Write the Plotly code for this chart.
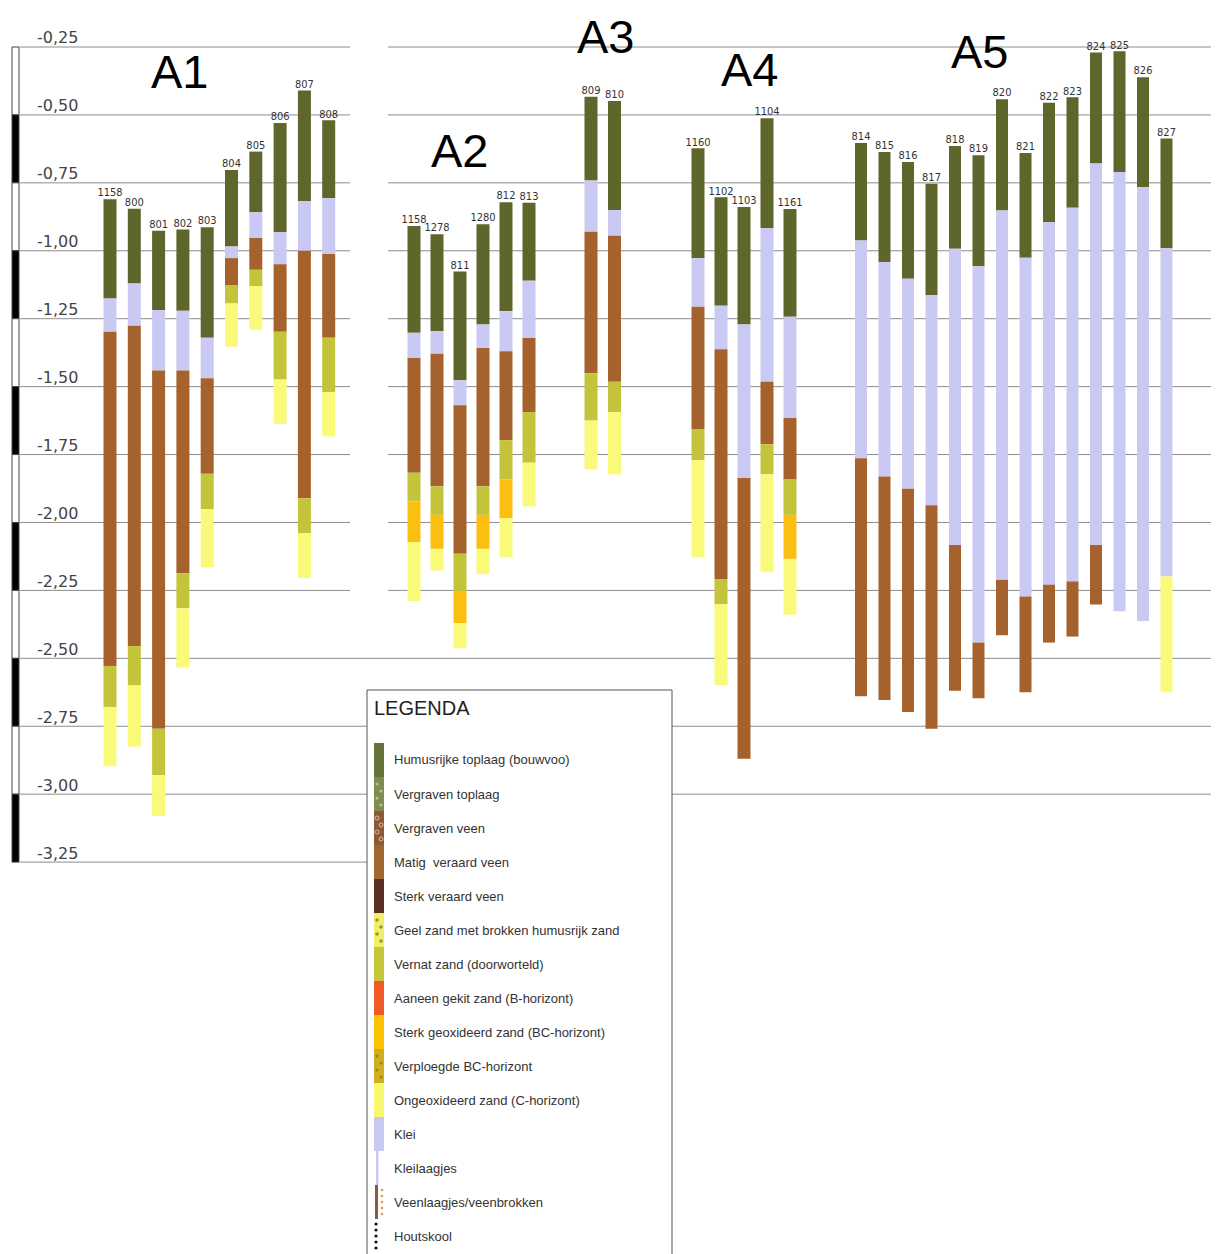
import plotly.graph_objects as go

W, H = 1219, 1254          # reference canvas (pixels)
OFF = 8                    # page body margin in the browser
FW, FH = W - OFF, H - OFF  # figure size

# ---------------- data (elevations in m) ----------------
borehole = ["1158", "800", "801", "802", "803", "804", "805", "806", "807", "808",
            "1158", "1278", "811", "1280", "812", "813",
            "809", "810",
            "1160", "1102", "1103", "1104", "1161",
            "814", "815", "816", "817", "818", "819", "820", "821", "822", "823", "824", "825", "826", "827"]
group = (["A1"] * 10 + ["A2"] * 6 + ["A3"] * 2 + ["A4"] * 5 + ["A5"] * 14)

top = [-0.81, -0.845, -0.926, -0.922, -0.913, -0.703, -0.635, -0.53, -0.41, -0.52,
       -0.909, -0.939, -1.076, -0.902, -0.821, -0.823,
       -0.433, -0.449,
       -0.623, -0.803, -0.839, -0.512, -0.846,
       -0.603, -0.636, -0.673, -0.753, -0.614, -0.648, -0.442, -0.64, -0.455, -0.435, -0.27, -0.266, -0.361, -0.587]
humus_bot = [-1.176, -1.12, -1.218, -1.221, -1.32, -0.984, -0.858, -0.932, -0.817, -0.807,
             -1.302, -1.296, -1.476, -1.271, -1.222, -1.11,
             -0.741, -0.85,
             -1.027, -1.202, -1.271, -0.916, -1.243,
             -0.962, -1.042, -1.103, -1.164, -0.993, -1.057, -0.852, -1.026, -0.895, -0.842, -0.679, -0.71, -0.765, -0.991]
klei_bot = [-1.298, -1.276, -1.441, -1.441, -1.469, -1.027, -0.953, -1.05, -1.0, -1.012,
            -1.395, -1.379, -1.569, -1.358, -1.37, -1.321,
            -0.93, -0.945,
            -1.206, -1.362, -1.836, -1.482, -1.615,
            -1.764, -1.831, -1.876, -1.937, -2.083, -2.442, -2.211, -2.272, -2.229, -2.217, -2.083, -2.327, -2.363, -2.199]
veen_bot = [-2.528, -2.455, -2.759, -2.187, -1.821, -1.126, -1.07, -1.298, -1.911, -1.32,
            -1.817, -1.867, -2.115, -1.867, -1.697, -1.594,
            -1.451, -1.482,
            -1.656, -2.208, -2.87, -1.712, -1.842,
            -2.64, -2.653, -2.698, -2.759, -2.619, -2.647, -2.415, -2.625, -2.442, -2.42, -2.302, None, None, None]
vernat_bot = [-2.679, -2.60, -2.93, -2.316, -1.951, -1.194, -1.13, -1.474, -2.039, -1.52,
              -1.923, -1.972, -2.252, -1.972, -1.842, -1.78,
              -1.625, -1.594,
              -1.771, -2.301, None, -1.823, -1.972,
              None, None, None, None, None, None, None, None, None, None, None, None, None, None]
bc_bot = [None] * 10 + [-2.072, -2.097, -2.37, -2.097, -1.985, None] + [None, None] + \
         [None, None, None, None, -2.134] + [None] * 14
c_bot = [-2.897, -2.825, -3.08, -2.534, -2.165, -1.353, -1.29, -1.637, -2.204, -1.683,
         -2.289, -2.177, -2.463, -2.19, -2.128, -1.941,
         -1.805, -1.823,
         -2.128, -2.599, None, -2.183, -2.339,
         None, None, None, None, None, None, None, None, None, None, None, None, None, -2.625]

tick_vals = [-0.25, -0.5, -0.75, -1.0, -1.25, -1.5, -1.75, -2.0, -2.25, -2.5, -2.75, -3.0, -3.25]
tick_text = ["-0,25", "-0,50", "-0,75", "-1,00", "-1,25", "-1,50", "-1,75", "-2,00",
             "-2,25", "-2,50", "-2,75", "-3,00", "-3,25"]

legend_labels = ["Humusrijke toplaag (bouwvoo)", "Vergraven toplaag", "Vergraven veen",
                 "Matig  veraard veen", "Sterk veraard veen", "Geel zand met brokken humusrijk zand",
                 "Vernat zand (doorworteld)", "Aaneen gekit zand (B-horizont)",
                 "Sterk geoxideerd zand (BC-horizont)", "Verploegde BC-horizont",
                 "Ongeoxideerd zand (C-horizont)", "Klei", "Kleilaagjes",
                 "Veenlaagjes/veenbrokken", "Houtskool"]

# ---------------- layout / style ----------------
group_layout = {"A1": (110, 24.3, 13), "A2": (414, 23.0, 13), "A3": (591, 23.5, 13),
                "A4": (698, 23.0, 13), "A5": (861, 23.5, 12)}
# (x, y, yanchor) in reference pixels
group_title_pos = {"A1": (180, 72, "middle"), "A2": (460, 150, "middle"), "A3": (606, 9, "top"),
                   "A4": (750, 69, "middle"), "A5": (980, 52, "middle")}

layers = [("humus", humus_bot, "#5e662b"), ("klei", klei_bot, "#c9c9f4"),
          ("veen", veen_bot, "#a6622c"), ("vernat", vernat_bot, "#c4c43a"),
          ("bc", bc_bot, "#fbbf12"), ("c", c_bot, "#f9f97a")]

PX_PER_M = 271.7
Y0_PX = 47  # reference pixel row of -0.25
y_top = -0.25 + (Y0_PX - OFF) / PX_PER_M
y_bot = -0.25 - (H - Y0_PX) / PX_PER_M


def px(x):
    return (x - OFF) / FW


def py(y):
    return 1 - (y - OFF) / FH


# x positions from group layout (reference pixel units)
xpos, widths, counters = [], [], {}
for g in group:
    start, step, w = group_layout[g]
    k = counters.get(g, 0)
    counters[g] = k + 1
    xpos.append(start + k * step)
    widths.append(w)

fig = go.Figure()

prev = list(top)
for name, bots, color in layers:
    xs, bases, ys, ws = [], [], [], []
    for i, b in enumerate(bots):
        if b is None:
            continue
        xs.append(xpos[i])
        bases.append(prev[i])
        ys.append(b - prev[i])
        ws.append(widths[i])
        prev[i] = b
    fig.add_trace(go.Bar(x=xs, y=ys, base=bases, width=ws, marker=dict(color=color, line=dict(width=0)),
                         name=name, showlegend=False, hoverinfo="skip"))

fig.add_trace(go.Scatter(x=xpos, y=top, mode="text", text=borehole, textposition="top center",
                         textfont=dict(family="Liberation Sans Narrow, DejaVu Sans Condensed, sans-serif",
                                       size=11, color="#333"),
                         showlegend=False, hoverinfo="skip"))

shapes = []
# gridlines
grid_color = "#8c8c8c"
for v in tick_vals:
    if v >= -2.25:
        segs = [(20, 350), (388, W)]
    elif v == -2.5:
        segs = [(20, W)]
    elif v in (-2.75, -3.0):
        segs = [(20, 367), (672, W)]
    else:
        segs = [(20, 367)]
    for a, b in segs:
        shapes.append(dict(type="line", xref="paper", yref="y", x0=px(a), x1=px(b), y0=v, y1=v,
                           line=dict(color=grid_color, width=1), layer="below"))
# left scale bar
for k in range(len(tick_vals) - 1):
    black = k % 2 == 1
    shapes.append(dict(type="rect", xref="paper", yref="y", x0=px(12), x1=px(19),
                       y0=tick_vals[k], y1=tick_vals[k + 1],
                       fillcolor="black" if black else "white",
                       line=dict(color="#444", width=1)))

# legend box
shapes.append(dict(type="rect", xref="paper", yref="paper", x0=px(367), x1=px(672), y0=py(690), y1=py(H + 10),
                   fillcolor="white", line=dict(color="#555", width=1)))
sw_x0, sw_x1 = 374, 384
item_h = 34
first_c = 760
swatch_fill = ["#66733a", "#7e8c4f", "#8b5a36", "#a0672f", "#5c2f24", "#f3ee6a", "#c3c83a",
               "#f05a28", "#fcc200", "#d2ae1e", "#f8f870", "#c8c8f0", None, None, None]
for i, col in enumerate(swatch_fill):
    yc = first_c + i * item_h
    if col is not None:
        shapes.append(dict(type="rect", xref="paper", yref="paper", x0=px(sw_x0), x1=px(sw_x1),
                           y0=py(yc - item_h / 2), y1=py(yc + item_h / 2), fillcolor=col, line=dict(width=0)))


def dot(x, y, r, color, line=None):
    shapes.append(dict(type="circle", xref="paper", yref="paper", x0=px(x - r), x1=px(x + r),
                       y0=py(y - r), y1=py(y + r), fillcolor=color,
                       line=dict(width=0) if line is None else line))


# patterned swatches
for j, (dx, dy) in enumerate([(377, -10), (381, -3), (377, 4), (381, 11)]):
    dot(dx, first_c + 1 * item_h + dy, 1.6, "#b7c28a")          # vergraven toplaag
    dot(dx, first_c + 2 * item_h + dy, 2.0, "#8b5a36", dict(color="#d8b898", width=1))  # vergraven veen
    dot(dx, first_c + 5 * item_h + dy, 1.8, "#8f9a3a")          # geel zand met brokken
    dot(dx, first_c + 9 * item_h + dy, 1.6, "#8f8a30")          # verploegde BC
# kleilaagjes
yc = first_c + 12 * item_h
shapes.append(dict(type="rect", xref="paper", yref="paper", x0=px(376), x1=px(378.5),
                   y0=py(yc - item_h / 2), y1=py(yc + item_h / 2), fillcolor="#c8c8f0", line=dict(width=0)))
# veenlaagjes
yc = first_c + 13 * item_h
shapes.append(dict(type="rect", xref="paper", yref="paper", x0=px(375), x1=px(378),
                   y0=py(yc - item_h / 2), y1=py(yc + item_h / 2), fillcolor="#8b5a36", line=dict(width=0)))
for dy in (-12, -6, 0, 6, 12):
    dot(382, yc + dy, 1.3, "#e0955a")
# houtskool
yc = first_c + 14 * item_h
for dy in (-12, -6, 0, 6, 12):
    dot(376, yc + dy, 1.6, "#111")

annotations = []
for g, (gx, gy, ya) in group_title_pos.items():
    annotations.append(dict(x=px(gx), y=py(gy), xref="paper", yref="paper", text=g, showarrow=False,
                            font=dict(family="Liberation Sans, Arial, sans-serif", size=47, color="black"),
                            xanchor="center", yanchor=ya, borderpad=0))
annotations.append(dict(x=px(372), y=py(708), xref="paper", yref="paper", text="LEGENDA", showarrow=False,
                        font=dict(family="Liberation Sans, Arial, sans-serif", size=20, color="#222"),
                        xanchor="left", yanchor="middle"))
for i, lab in enumerate(legend_labels):
    annotations.append(dict(x=px(392), y=py(first_c + i * item_h), xref="paper", yref="paper", text=lab,
                            showarrow=False, xanchor="left", yanchor="middle",
                            font=dict(family="Liberation Sans, Arial, sans-serif", size=13, color="#333")))

fig.update_layout(
    width=FW, height=FH, margin=dict(l=0, r=0, t=0, b=0),
    paper_bgcolor="white", plot_bgcolor="white", barmode="overlay",
    xaxis=dict(range=[OFF, W], visible=False, fixedrange=True),
    yaxis=dict(range=[y_bot, y_top], tickvals=tick_vals, ticktext=tick_text, ticks="",
               ticklabelposition="inside top", ticklabelstandoff=26, ticklabelshift=2,
               showgrid=False, zeroline=False, showline=False,
               tickfont=dict(family="DejaVu Sans, sans-serif", size=16, color="#444")),
    shapes=shapes, annotations=annotations, showlegend=False,
)

fig.write_html("out.html")
